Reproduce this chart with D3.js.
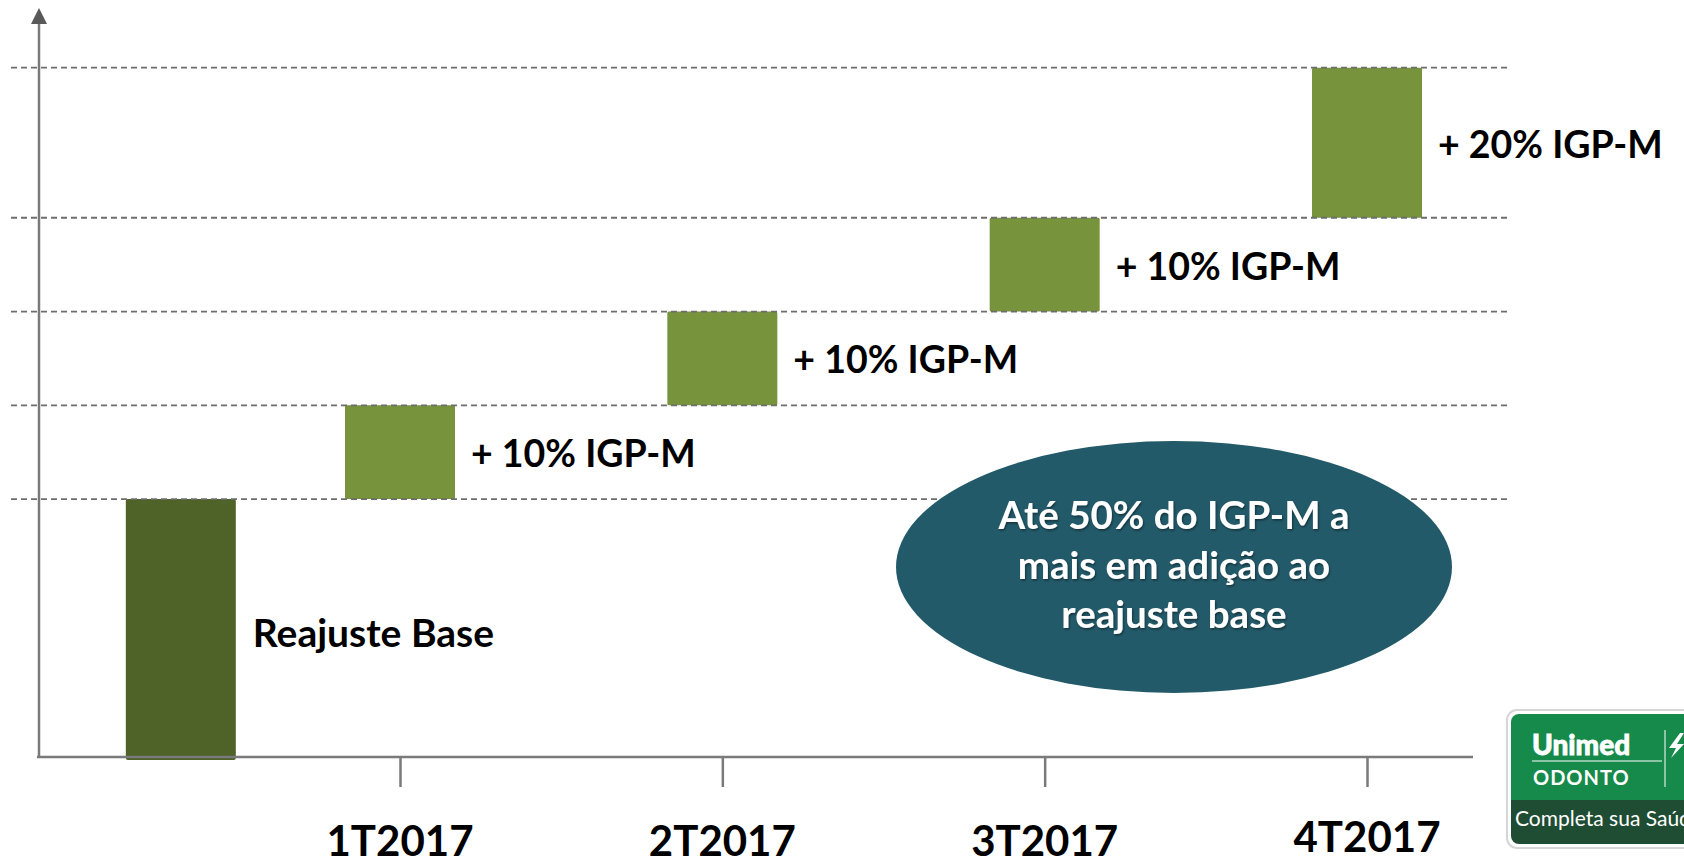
<!DOCTYPE html>
<html>
<head>
<meta charset="utf-8">
<script src="https://cdn.jsdelivr.net/npm/d3@7"></script>
<style>
  body { margin: 0; background: #fff; }
  svg { display: block; font-family: Lato, "Open Sans", sans-serif; }
</style>
</head>
<body>
<svg id="chart" width="1684" height="865"></svg>
<script>
// data (heights in drawing units)
var baseLabel = 'Reajuste Base';
var baseValue = 27.5;
var quarters = ['1T2017', '2T2017', '3T2017', '4T2017'];
var steps = [10, 10, 10, 16];
var stepLabels = ['+ 10% IGP-M', '+ 10% IGP-M', '+ 10% IGP-M', '+ 20% IGP-M'];
var noteLines = ['Até 50% do IGP-M a', 'mais em adição ao', 'reajuste base'];

var svg = d3.select('#chart');

var axisX = 39;
var axisY = 757;

var x = d3.scalePoint()
    .domain(quarters)
    .range([400, 1367]);

var y = d3.scaleLinear()
    .domain([0, 73.5])
    .range([axisY, 67.7]);

var barW = 110;

// build the stacked steps
var tops = [];
var acc = baseValue;
var bars = steps.map(function(s, i) {
    var b = { q: quarters[i], y0: acc, y1: acc + s, label: stepLabels[i] };
    acc += s;
    return b;
});
tops.push(baseValue);
bars.forEach(function(b) { tops.push(b.y1); });

var baseCx = x(quarters[0]) - x.step() * 0.68;

// bars
svg.append('rect')
    .attr('x', baseCx - barW / 2)
    .attr('y', y(baseValue))
    .attr('width', barW)
    .attr('height', y(0) - y(baseValue) + 3)
    .attr('rx', 2)
    .attr('fill', '#4f6228');

svg.selectAll('.step')
    .data(bars)
    .enter().append('rect')
    .attr('class', 'step')
    .attr('x', function(d) { return x(d.q) - barW / 2; })
    .attr('y', function(d) { return y(d.y1); })
    .attr('width', barW)
    .attr('height', function(d) { return y(d.y0) - y(d.y1); })
    .attr('rx', 1.5)
    .attr('fill', '#77933c');

// dashed guide lines
svg.selectAll('.guide')
    .data(tops)
    .enter().append('line')
    .attr('class', 'guide')
    .attr('x1', 11)
    .attr('x2', 1508)
    .attr('y1', function(d) { return y(d); })
    .attr('y2', function(d) { return y(d); })
    .attr('stroke', '#6d6d6d')
    .attr('stroke-width', 1.8)
    .attr('stroke-dasharray', '6,4');

// axes
svg.append('line')
    .attr('x1', axisX).attr('x2', axisX)
    .attr('y1', axisY).attr('y2', 22)
    .attr('stroke', '#7a7a7a')
    .attr('stroke-width', 2.5);

svg.append('path')
    .attr('d', 'M' + (axisX - 8) + ',24L' + axisX + ',8L' + (axisX + 8) + ',24Z')
    .attr('fill', '#595959');

var xAxis = svg.append('g')
    .attr('transform', 'translate(0,' + axisY + ')')
    .call(d3.axisBottom(x).tickSize(30).tickFormat(''));
xAxis.select('.domain')
    .attr('d', 'M' + (axisX - 2) + ',0H1473');
xAxis.selectAll('path, line')
    .attr('stroke', '#7a7a7a')
    .attr('stroke-width', 2.5);

svg.selectAll('.qlabel')
    .data(quarters)
    .enter().append('text')
    .attr('class', 'qlabel')
    .attr('x', function(d) { return x(d); })
    .attr('y', function(d, i) { return i === 3 ? 852 : 856; })
    .attr('text-anchor', 'middle')
    .attr('font-size', 42)
    .attr('font-weight', 'bold')
    .attr('fill', '#000')
    .text(function(d) { return d; });

// bar labels
svg.append('text')
    .attr('x', baseCx + barW / 2 + 17)
    .attr('y', 647)
    .attr('font-size', 39)
    .attr('font-weight', 'bold')
    .text(baseLabel);

svg.selectAll('.slabel')
    .data(bars)
    .enter().append('text')
    .attr('class', 'slabel')
    .attr('x', function(d) { return x(d.q) + barW / 2 + 16; })
    .attr('y', function(d) { return (y(d.y0) + y(d.y1)) / 2 + 15; })
    .attr('font-size', 37.5)
    .attr('font-weight', 'bold')
    .text(function(d) { return d.label; });

// note bubble
var defs = svg.append('defs');
var f = defs.append('filter').attr('id', 'shadow');
f.append('feDropShadow')
    .attr('dx', 1).attr('dy', 1.5).attr('stdDeviation', 1)
    .attr('flood-color', '#000').attr('flood-opacity', 0.45);

svg.append('ellipse')
    .attr('cx', 1174).attr('cy', 567)
    .attr('rx', 278).attr('ry', 126)
    .attr('fill', '#235a6a');

svg.selectAll('.note')
    .data(noteLines)
    .enter().append('text')
    .attr('class', 'note')
    .attr('x', 1174)
    .attr('y', function(d, i) { return 529 + i * 49.5; })
    .attr('text-anchor', 'middle')
    .attr('font-size', 38.5)
    .attr('font-weight', 'bold')
    .attr('fill', '#fff')
    .attr('filter', 'url(#shadow)')
    .text(function(d) { return d; });

// logo, bottom right
var logo = svg.append('g');
logo.append('rect')
    .attr('x', 1507).attr('y', 710).attr('width', 200).attr('height', 138)
    .attr('rx', 10)
    .attr('fill', '#fff')
    .attr('stroke', '#d6d6d6').attr('stroke-width', 2);
logo.append('clipPath').attr('id', 'logoClip')
    .append('rect')
    .attr('x', 1511).attr('y', 714).attr('width', 200).attr('height', 130)
    .attr('rx', 8);
var inner = logo.append('g').attr('clip-path', 'url(#logoClip)');
inner.append('rect')
    .attr('x', 1511).attr('y', 714).attr('width', 200).attr('height', 90)
    .attr('fill', '#168a4a');
inner.append('rect')
    .attr('x', 1511).attr('y', 800).attr('width', 200).attr('height', 44)
    .attr('fill', '#1f4d33');
inner.append('text')
    .attr('x', 1532).attr('y', 755)
    .attr('font-size', 28).attr('font-weight', 900)
    .attr('fill', '#fff')
    .attr('stroke', '#fff').attr('stroke-width', 0.8)
    .text('Unimed');
inner.append('line')
    .attr('x1', 1532).attr('x2', 1662).attr('y1', 761).attr('y2', 761)
    .attr('stroke', '#fff').attr('stroke-width', 1);
inner.append('line')
    .attr('x1', 1665).attr('x2', 1665).attr('y1', 730).attr('y2', 787)
    .attr('stroke', '#fff').attr('stroke-width', 1);
inner.append('path')
    .attr('d', 'M1680,733L1669,748L1676,748L1671,758L1684,744L1677,744L1684,733Z')
    .attr('fill', '#fff');
inner.append('text')
    .attr('x', 1533).attr('y', 785)
    .attr('font-size', 20).attr('font-weight', 'bold')
    .attr('fill', '#fff')
    .attr('letter-spacing', 1)
    .text('ODONTO');
inner.append('text')
    .attr('x', 1515).attr('y', 826)
    .attr('font-size', 21)
    .attr('fill', '#fff')
    .text('Completa sua Saúde');
</script>
</body>
</html>
